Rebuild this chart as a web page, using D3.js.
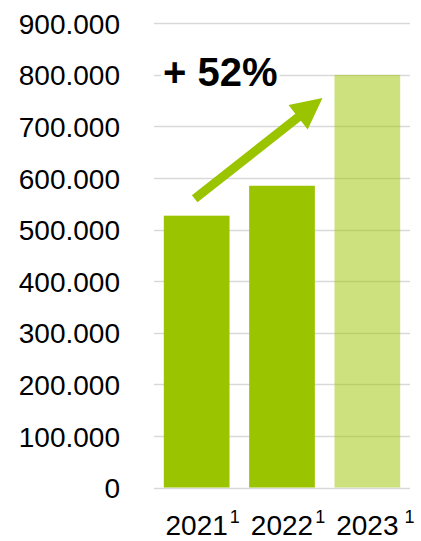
<!DOCTYPE html>
<html>
<head>
<meta charset="utf-8">
<script src="https://cdn.jsdelivr.net/npm/d3@7"></script>
<style>
  html, body { margin: 0; padding: 0; background: #fff; }
  svg text { font-family: "Liberation Sans", Arial, sans-serif; fill: #000; }
</style>
</head>
<body>
<div id="chart"></div>
<script>
// chart data
const years = ["2021", "2022", "2023"];
const footnotes = ["1", "1", "1"];
const values = [527000, 585000, 800000];
const forecast = [false, false, true];
const yTicks = [0, 100000, 200000, 300000, 400000, 500000, 600000, 700000, 800000, 900000];
const growthLabel = "+ 52%";

const width = 421, height = 541;
const margin = { top: 23.3, right: 11, bottom: 53.5, left: 154 };
const green = "#9bc400";

const svg = d3.select("#chart").append("svg")
  .attr("width", width)
  .attr("height", height);

const x = d3.scaleBand()
  .domain(years)
  .range([margin.left, width - margin.right])
  .paddingInner(0.23)
  .paddingOuter(0.115);

const y = d3.scaleLinear()
  .domain([0, 900000])
  .range([height - margin.bottom, margin.top]);

// german style thousand separator
const locale = d3.formatLocale({ decimal: ",", thousands: ".", grouping: [3], currency: ["", "€"] });
const fmt = locale.format(",d");

//gridlines
svg.append("g")
  .selectAll("line")
  .data(yTicks)
  .join("line")
  .attr("x1", margin.left)
  .attr("x2", width - margin.right)
  .attr("y1", d => Math.round(y(d)) + 0.5)
  .attr("y2", d => Math.round(y(d)) + 0.5)
  .attr("stroke", "#d9d9d9")
  .attr("stroke-width", 1.3);

//y axis labels
const yAxis = svg.append("g")
  .attr("transform", `translate(120,0)`)
  .call(d3.axisLeft(y).tickValues(yTicks).tickFormat(fmt).tickSize(0).tickPadding(0));
yAxis.select(".domain").remove();
yAxis.selectAll("text")
  .style("font-size", "28px")
  .style("font-family", "'Liberation Sans', Arial, sans-serif")
  .attr("fill", "#000")
  .attr("dy", "0.36em");

//bars
svg.append("g")
  .selectAll("rect")
  .data(years)
  .join("rect")
  .attr("x", d => x(d))
  .attr("width", x.bandwidth())
  .attr("y", (d, i) => y(values[i]))
  .attr("height", (d, i) => y(0) - y(values[i]))
  .attr("fill", green)
  .attr("fill-opacity", (d, i) => forecast[i] ? 0.5 : 1);

//x labels with superscript
const xLab = svg.append("g");
years.forEach((yr, i) => {
  const cx = x(yr) + x.bandwidth() / 2;
  const t = xLab.append("text")
    .attr("x", cx)
    .attr("y", 535)
    .attr("text-anchor", "middle")
    .style("font-size", "28px")
    .text(yr);
  const w = t.node().getComputedTextLength();
  xLab.append("text")
    .attr("x", cx + w / 2 + (i === 2 ? 6 : 2))
    .attr("y", 523)
    .style("font-size", "18px")
    .text(footnotes[i]);
});

//growth arrow, from first bar towards last
const x0 = x(years[0]) + x.bandwidth() / 2 - 2,
      y0 = y(560000),
      x1 = x(years[2]) - 12,
      y1 = y(755000);
const ang = Math.atan2(y1 - y0, x1 - x0),
      len = Math.hypot(x1 - x0, y1 - y0),
      shaft = 4.5, head = 15.5, headLen = 31;
const rot = (px, py) => [x0 + px * Math.cos(ang) - py * Math.sin(ang), y0 + px * Math.sin(ang) + py * Math.cos(ang)];
const arrowPts = [
  rot(0, -shaft), rot(len - headLen, -shaft), rot(len - headLen, -head),
  rot(len, 0),
  rot(len - headLen, head), rot(len - headLen, shaft), rot(0, shaft)
];
svg.append("polygon")
  .attr("points", arrowPts.map(p => p.join(",")).join(" "))
  .attr("fill", green);

//growth label with white box
const lab = svg.append("g");
const box = lab.append("rect").attr("fill", "#fff");
const txt = lab.append("text")
  .attr("x", 163)
  .attr("y", 86)
  .style("font-size", "40px")
  .style("font-weight", "bold")
  .text(growthLabel);
const bb = txt.node().getBBox();
box.attr("x", bb.x - 2).attr("y", bb.y).attr("width", bb.width + 4).attr("height", bb.height);
</script>
</body>
</html>
